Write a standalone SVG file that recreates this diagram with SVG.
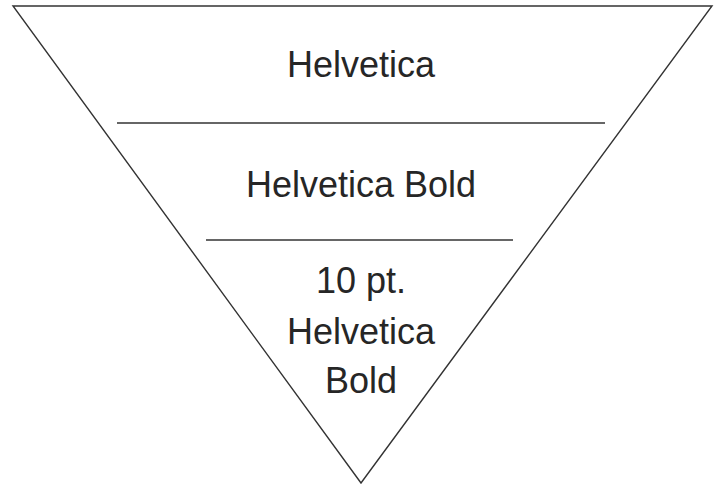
<svg xmlns="http://www.w3.org/2000/svg" width="715" height="485" viewBox="0 0 715 485">
<style>
.edge{stroke:#333;stroke-width:1.4;fill:none}
.t{font-family:"Liberation Sans",Arial,sans-serif;font-size:36px;fill:#262626;text-anchor:middle}
</style>
<rect width="715" height="485" fill="#fff"/>
<g id="triangle"><polygon class="edge" points="13,6 712,6 361,483"/></g>
<g id="connectors">
<line class="edge" x1="117" y1="123" x2="605" y2="123"/>
<line class="edge" x1="206" y1="240" x2="513" y2="240"/>
</g>
<g id="top"><text class="t" x="361" y="77">Helvetica</text></g>
<g id="middle"><text class="t" x="361" y="197">Helvetica Bold</text></g>
<g id="bottom">
<text class="t" x="361" y="293">10 pt.</text>
<text class="t" x="361" y="344">Helvetica</text>
<text class="t" x="361" y="393">Bold</text>
</g>
</svg>
